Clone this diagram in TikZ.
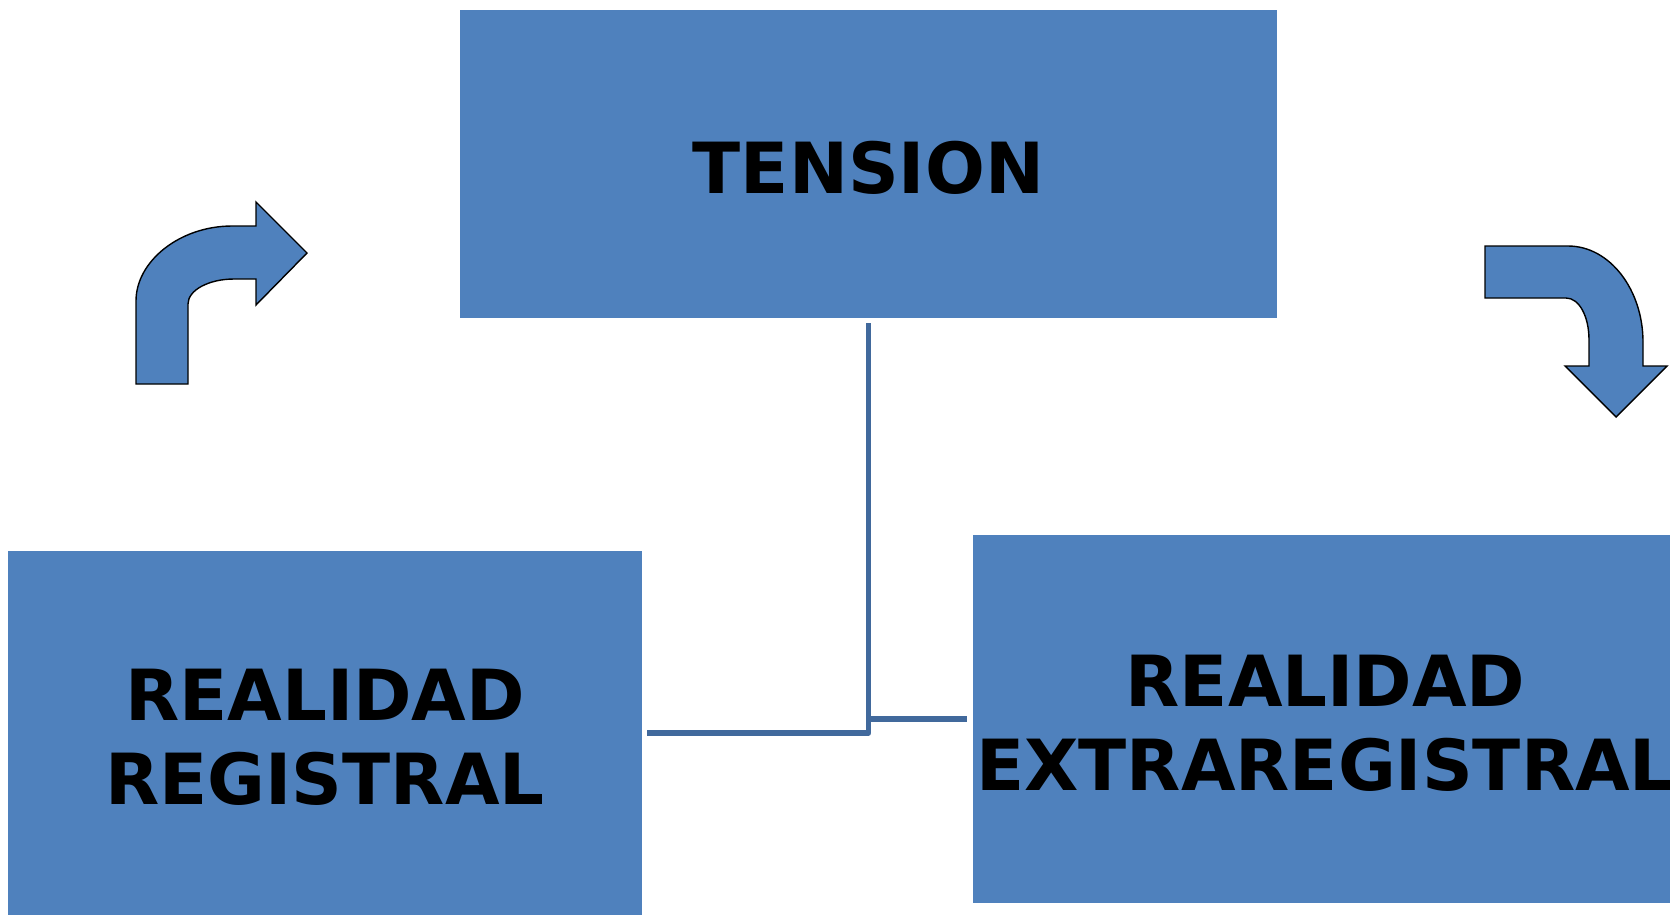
\documentclass[tikz,border=0pt]{standalone}
\usepackage{fontspec}
\setmainfont{DejaVu Sans}
\definecolor{boxblue}{HTML}{4F81BD}
\definecolor{connblue}{HTML}{41699C}
\begin{document}
\begin{tikzpicture}[x=1pt,y=-1pt,
  box/.style={fill=boxblue, draw=none, inner sep=0pt, outer sep=0pt},
  boxtext/.style={inner sep=0pt, outer sep=0pt, align=center,
    font={\fontsize{70.5pt}{84pt}\selectfont\bfseries}},
  conn/.style={draw=connblue, line width=5.5pt, line join=round},
  bentarrow/.style={fill=boxblue, draw=black, line width=1.4pt, line join=miter}]
\useasboundingbox (0,0) rectangle (1670,914);
\clip (0,0) rectangle (1670,914);
\fill[white] (0,0) rectangle (1670,914);

\node[box, minimum width=817pt, minimum height=308pt] (tension) at (868.5,164) {};
\node[box, minimum width=634pt, minimum height=372pt] (regbox) at (325,737) {};
\node[box, minimum width=705pt, minimum height=368pt] (extrabox) at (1325.5,719) {};

\node[boxtext, yshift=-4pt] (tensiontext) at (tension.center) {TENSION};
\node[boxtext] (regtext) at (regbox.center) {REALIDAD\\REGISTRAL};
\node[boxtext, yshift=-4pt] (extratext) at (extrabox.center) {REALIDAD\\EXTRAREGISTRAL};

\coordinate (yL) at (0,733);
\coordinate (yR) at (0,719);
\draw[conn] ([yshift=-5pt]tension.south) -- (tension.south |- yL) -- ([xshift=5pt]regbox.east |- yL);
\draw[conn] (tension.south |- yR) -- ([xshift=-6pt]extrabox.west |- yR);

% left bent arrow
\draw[bentarrow] (136,384) -- (136,301)
  .. controls (136,261) and (180,226) .. (232,226)
  -- (256,226) -- (256,202) -- (307,253) -- (256,305) -- (256,279) -- (234,279)
  .. controls (209,279) and (188,290) .. (188,304)
  -- (188,384) -- cycle;

% right bent arrow
\draw[bentarrow] (1485,246) -- (1568,246)
  .. controls (1610,246) and (1643,290) .. (1643,342)
  -- (1643,366) -- (1667,366) -- (1616,417) -- (1565,366) -- (1589,366) -- (1589,340)
  .. controls (1589,316) and (1579,298) .. (1566,298)
  -- (1485,298) -- cycle;
\end{tikzpicture}
\end{document}
